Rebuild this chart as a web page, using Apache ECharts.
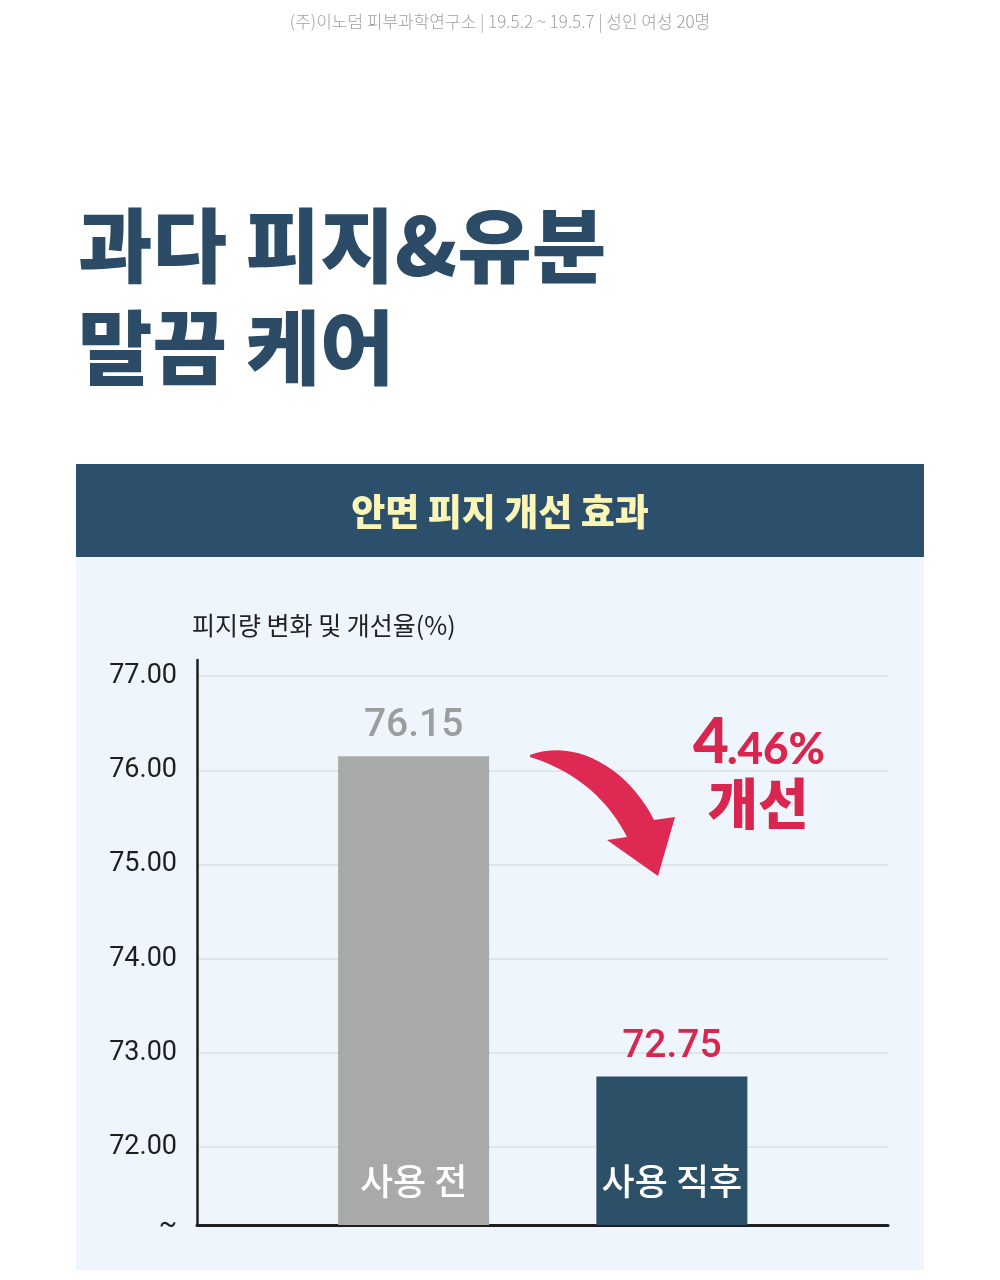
<!DOCTYPE html>
<html>
<head>
<meta charset="utf-8">
<script src="https://cdn.jsdelivr.net/npm/echarts@6/dist/echarts.min.js"></script>
<style>
  html, body { margin: 0; padding: 0; background: #fff; }
  #chart { width: 1000px; height: 1280px; }
</style>
</head>
<body>
<div id="chart"></div>
<script>
// 데이터
var categories = ['사용 전', '사용 직후'];
var values = [76.15, 72.75];
var valueColors = ['#9c9d9d', '#d8264f'];
var barColors = ['#a8aaa9', '#2d5069'];
var yTicks = [72, 73, 74, 75, 76, 77];
var yMin = 71.175;   // 축 아래 "~" 자리
var yMax = 77.17;
var improveRate = '4.46%';

var cjk = '"Noto Sans CJK KR", "Noto Sans", sans-serif';
var num = 'Roboto, "Noto Sans", sans-serif';

// 곡선 화살표 외곽선 (3차 베지어 샘플링)
function bez(p0, p1, p2, p3, n) {
    var pts = [];
    for (var i = 0; i <= n; i++) {
        var t = i / n, u = 1 - t;
        pts.push([
            u * u * u * p0[0] + 3 * u * u * t * p1[0] + 3 * u * t * t * p2[0] + t * t * t * p3[0],
            u * u * u * p0[1] + 3 * u * u * t * p1[1] + 3 * u * t * t * p2[1] + t * t * t * p3[1]
        ]);
    }
    return pts;
}
var arrowPts = bez([530, 755], [575, 738], [628, 768], [654, 820], 20)
    .concat([[675, 817], [658, 876], [607, 840]])
    .concat(bez([627, 837], [606, 796], [572, 770], [530, 757], 20));

var myChart = echarts.init(document.getElementById('chart'));

var option = {
    backgroundColor: '#ffffff',
    animation: false,
    graphic: [
        {
            type: 'text', x: 500, y: 22, z: 5,
            style: {
                text: '(주)이노덤 피부과학연구소 | 19.5.2 ~ 19.5.7 | 성인 여성 20명',
                fill: '#a0a0a0', font: '300 17px ' + cjk,
                align: 'center', verticalAlign: 'middle'
            }
        },
        {
            type: 'text', x: 78, y: 245, z: 5,
            style: {
                text: '과다 피지&유분', fill: '#2b4b67',
                font: '900 81px ' + cjk, verticalAlign: 'middle'
            }
        },
        {
            type: 'text', x: 78, y: 347, z: 5,
            style: {
                text: '말끔 케어', fill: '#2b4b67',
                font: '900 81px ' + cjk, verticalAlign: 'middle'
            }
        },
        {
            type: 'rect', z: -10,
            shape: { x: 76, y: 557, width: 848, height: 713 },
            style: { fill: '#eef5fc' }
        },
        {
            type: 'rect', z: -10,
            shape: { x: 76, y: 464, width: 848, height: 93 },
            style: { fill: '#2c4f6b' }
        },
        {
            type: 'text', x: 500, y: 512, z: 5,
            style: {
                text: '안면 피지 개선 효과', fill: '#fbf6b6',
                font: '900 37px ' + cjk, align: 'center', verticalAlign: 'middle'
            }
        },
        {
            type: 'text', x: 192, y: 625, z: 5,
            style: {
                text: '피지량 변화 및 개선율(%)', fill: '#222222',
                font: '400 25px ' + cjk, verticalAlign: 'middle'
            }
        },
        // 화살표
        {
            type: 'polygon', z: 20,
            shape: { points: arrowPts },
            style: { fill: '#de2a52' }
        },
        {
            type: 'text', x: 693, y: 743, z: 20,
            style: {
                text: improveRate.charAt(0), fill: '#d8264f',
                font: '900 62px Lato, ' + num, verticalAlign: 'middle'
            }
        },
        {
            type: 'text', x: 727, y: 750, z: 20,
            style: {
                text: improveRate.slice(1), fill: '#d8264f',
                font: '900 44px Lato, ' + num, verticalAlign: 'middle'
            }
        },
        {
            type: 'text', x: 758, y: 803, z: 20,
            style: {
                text: '개선', fill: '#d8264f',
                font: '900 55px ' + cjk, align: 'center', verticalAlign: 'middle'
            }
        }
    ],
    grid: [
        { left: 197, right: 112, top: 660, bottom: 55 },
        { left: 284.5, right: 199, top: 660, bottom: 55 }
    ],
    xAxis: [
        {
            type: 'category', gridIndex: 0, data: [''],
            axisLine: { onZero: false, lineStyle: { color: '#1f1f1f', width: 3 } },
            axisTick: { show: false },
            axisLabel: { show: false }
        },
        {
            type: 'category', gridIndex: 1, data: categories,
            axisLine: { show: false },
            axisTick: { show: false },
            axisLabel: {
                inside: true, margin: 26,
                color: '#ffffff', fontSize: 36, fontWeight: 500, fontFamily: cjk
            },
            z: 10
        }
    ],
    yAxis: [
        {
            type: 'value', gridIndex: 0, min: yMin, max: yMax,
            axisLine: { show: true, lineStyle: { color: '#1f1f1f', width: 2.5 } },
            axisTick: { show: false, customValues: [yMin].concat(yTicks) },
            axisLabel: {
                customValues: [yMin].concat(yTicks),
                margin: 20,
                color: '#1e1e1e', fontSize: 27, fontFamily: num,
                formatter: function (v) {
                    return v < yTicks[0] - 0.5 ? '~' : v.toFixed(2);
                }
            },
            splitLine: { show: true, lineStyle: { color: '#d9dee2', width: 1.5 } }
        },
        {
            type: 'value', gridIndex: 1, min: yMin, max: yMax,
            show: false
        }
    ],
    series: [
        {
            type: 'bar',
            xAxisIndex: 1, yAxisIndex: 1,
            barWidth: 151,
            z: 5,
            label: {
                show: true, position: 'top', distance: 10,
                fontSize: 39, fontWeight: 500, fontFamily: num,
                formatter: function (p) { return p.value.toFixed(2); }
            },
            data: values.map(function (v, i) {
                return {
                    value: v,
                    itemStyle: { color: barColors[i] },
                    label: { color: valueColors[i] }
                };
            })
        }
    ]
};
myChart.setOption(option);
</script>
</body>
</html>
